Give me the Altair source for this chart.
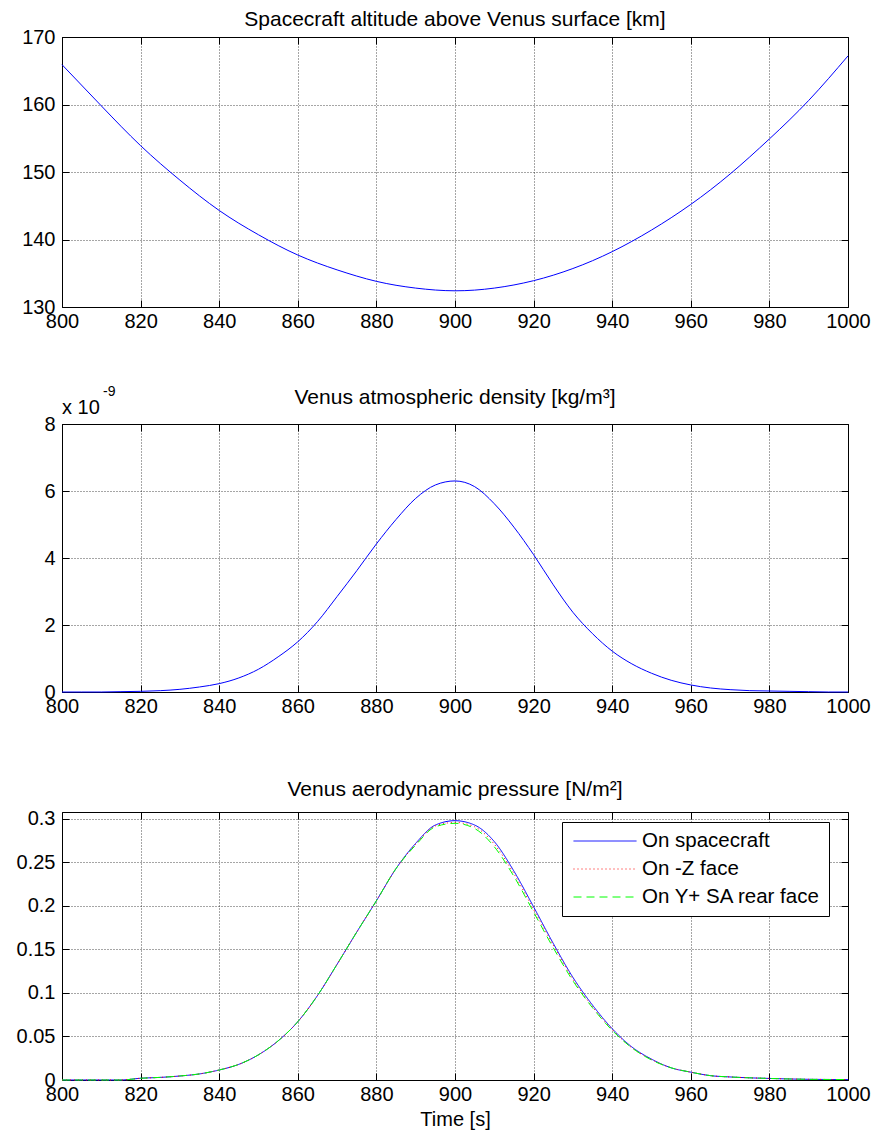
import altair as alt
import pandas as pd

# ---------------- data ----------------
time_alt = [800, 810, 820, 830, 840, 850, 860, 870, 880, 890, 900,
            910, 920, 930, 940, 950, 960, 970, 980, 990, 1000]
altitude_km = [165.9, 159.8, 153.9, 148.8, 144.3, 140.7, 137.7, 135.5, 133.8, 132.8, 132.4,
               132.8, 133.9, 135.7, 138.2, 141.4, 145.2, 149.7, 154.9, 160.6, 167.2]

time_fine = [800, 805, 810, 815, 820, 825, 830, 835, 840, 845, 850, 855, 860, 865, 870, 875,
             880, 885, 890, 895, 900, 905, 910, 915, 920, 925, 930, 935, 940, 945, 950, 955,
             960, 965, 970, 975, 980, 985, 990, 995, 1000]

density_e9 = [0.0, 0.0, 0.0, 0.01, 0.02, 0.04, 0.08, 0.15, 0.25, 0.42, 0.68, 1.05, 1.5, 2.1,
              2.85, 3.62, 4.42, 5.15, 5.78, 6.18, 6.3, 6.13, 5.62, 4.92, 4.1, 3.2, 2.38, 1.74,
              1.22, 0.84, 0.56, 0.35, 0.21, 0.12, 0.07, 0.04, 0.03, 0.02, 0.01, 0.0, 0.0]

p_spacecraft = [0.0, 0.0, 0.0, 0.0, 0.002, 0.003, 0.0046, 0.007, 0.0115, 0.018, 0.029, 0.045,
                0.067, 0.097, 0.133, 0.170, 0.206, 0.243, 0.272, 0.293, 0.298, 0.293, 0.274,
                0.240, 0.199, 0.157, 0.118, 0.086, 0.059, 0.038, 0.024, 0.014, 0.009, 0.005,
                0.0035, 0.0025, 0.0018, 0.0012, 0.0008, 0.0006, 0.0005]
p_minus_z = [0.0, 0.0, 0.0, 0.0, 0.002, 0.003, 0.0046, 0.007, 0.0115, 0.018, 0.029, 0.045,
             0.067, 0.097, 0.133, 0.170, 0.206, 0.243, 0.271, 0.292, 0.296, 0.291, 0.271,
             0.237, 0.196, 0.155, 0.116, 0.084, 0.058, 0.037, 0.0235, 0.014, 0.009, 0.005,
             0.0035, 0.0025, 0.0018, 0.0012, 0.0008, 0.0006, 0.0005]
p_y_rear = [0.0, 0.0, 0.0, 0.0, 0.002, 0.003, 0.0046, 0.007, 0.0115, 0.018, 0.029, 0.045,
            0.067, 0.097, 0.133, 0.170, 0.206, 0.243, 0.270, 0.291, 0.295, 0.289, 0.268,
            0.234, 0.193, 0.152, 0.114, 0.083, 0.057, 0.037, 0.023, 0.014, 0.009, 0.005,
            0.0035, 0.0025, 0.0018, 0.0012, 0.0008, 0.0006, 0.0005]

series_names = ["On spacecraft", "On -Z face", "On Y+ SA rear face"]
series_colors = ["#0000ff", "#ff0000", "#00ff00"]
series_dashes = [[1, 0], [1, 3], [8, 5]]

x_ticks = [800, 820, 840, 860, 880, 900, 920, 940, 960, 980, 1000]
alt_ticks = [130, 140, 150, 160, 170]
dens_ticks = [0, 2, 4, 6, 8]
pres_ticks = [0, 0.05, 0.1, 0.15, 0.2, 0.25, 0.3]

titles = ["Spacecraft altitude above Venus surface [km]",
          "Venus atmospheric density [kg/m³]",
          "Venus aerodynamic pressure [N/m²]"]
exp_base = ["x 10"]
exp_power = ["-9"]
x_title = "Time [s]"

# ---------------- tables ----------------
df_alt = pd.DataFrame({"t": time_alt, "v": altitude_km})
df_den = pd.DataFrame({"t": time_fine, "v": density_e9})
rows = []
for name, vals in zip(series_names, [p_spacecraft, p_minus_z, p_y_rear]):
    for t, v in zip(time_fine, vals):
        rows.append({"t": t, "v": v, "series": name})
df_pres = pd.DataFrame(rows)

FONT = "Liberation Sans"
W = 786
TICK = 7

x_scale = alt.Scale(domain=[800, 1000], nice=False, zero=False)


def x_main(title=None):
    return alt.X("t:Q", scale=x_scale,
                 axis=alt.Axis(values=x_ticks, title=title, format="d", offset=-TICK,
                               tickSize=TICK, labelPadding=4, labelFlush=False))


def y_main(scale, values, fmt):
    return alt.Y("v:Q", scale=scale,
                 axis=alt.Axis(values=values, title=None, format=fmt, offset=-TICK,
                               tickSize=TICK, labelPadding=7, labelFlush=False,
                               minExtent=56, maxExtent=56))


def frame_layer(df, yscale, yvalues):
    # invisible copy of the data, only to carry MATLAB-style inward ticks on top/right
    return alt.Chart(df).mark_line(opacity=0).encode(
        x=alt.X("t:Q", scale=x_scale,
                axis=alt.Axis(orient="top", values=x_ticks, labels=False, grid=False,
                              title=None, offset=-TICK, tickSize=TICK)),
        y=alt.Y("v:Q", scale=yscale,
                axis=alt.Axis(orient="right", values=yvalues, labels=False, grid=False,
                              title=None, offset=-TICK, tickSize=TICK)),
    )


def title_layer(text, dy):
    return alt.Chart(pd.DataFrame({"s": [text]})).mark_text(
        align="center", baseline="alphabetic", font=FONT, fontSize=21, color="black"
    ).encode(x=alt.value(W / 2), y=alt.value(dy), text="s:N")


# Panel 1
s1 = alt.Scale(domain=[130, 170], nice=False, zero=False)
l1 = alt.Chart(df_alt).mark_line(color="#0000ff", strokeWidth=1, interpolate="natural").encode(
    x=x_main(), y=y_main(s1, alt_ticks, "d"))
p1 = alt.layer(l1, frame_layer(df_alt, s1, alt_ticks), title_layer(titles[0], -11)).resolve_axis(
    x="independent", y="independent").properties(width=W, height=270)

# Panel 2
s2 = alt.Scale(domain=[0, 8], nice=False)
l2 = alt.Chart(df_den).mark_line(color="#0000ff", strokeWidth=1, interpolate="monotone").encode(
    x=x_main(), y=y_main(s2, dens_ticks, "d"))
exp1 = alt.Chart(pd.DataFrame({"s": exp_base})).mark_text(
    align="left", baseline="alphabetic", font=FONT, fontSize=20, color="black"
).encode(x=alt.value(0), y=alt.value(-10), text="s:N")
exp2 = alt.Chart(pd.DataFrame({"s": exp_power})).mark_text(
    align="left", baseline="alphabetic", font=FONT, fontSize=14, color="black"
).encode(x=alt.value(41), y=alt.value(-28), text="s:N")
p2 = alt.layer(l2, frame_layer(df_den, s2, dens_ticks), exp1, exp2,
               title_layer(titles[1], -20)).resolve_axis(
    x="independent", y="independent").properties(width=W, height=268)

# Panel 3
legend = alt.Legend(
    title=None, orient="none", legendX=500, legendY=10, direction="vertical",
    fillColor="white", strokeColor="black", padding=8,
    labelFont=FONT, labelFontSize=20.5, labelColor="black", labelLimit=400,
    labelExpr="datum.label + '\u00a0\u00a0\u00a0'",
    symbolType="M-3,0H3", symbolSize=441, symbolStrokeWidth=1,
    symbolOffset=24, labelOffset=26, rowPadding=6,
)
s3 = alt.Scale(domain=[0, 0.308], nice=False)
l3 = alt.Chart(df_pres).mark_line(strokeWidth=1, interpolate="monotone").encode(
    x=x_main(x_title),
    y=y_main(s3, pres_ticks, "~g"),
    color=alt.Color("series:N", scale=alt.Scale(domain=series_names, range=series_colors),
                    sort=series_names, legend=legend),
    strokeDash=alt.StrokeDash("series:N", scale=alt.Scale(domain=series_names, range=series_dashes),
                              sort=series_names, legend=legend),
)
p3 = alt.layer(l3, frame_layer(df_pres, s3, pres_ticks), title_layer(titles[2], -16)).resolve_axis(
    x="independent", y="independent").properties(width=W, height=268)

top = alt.vconcat(p1, p2, spacing=52)
chart = alt.vconcat(top, p3, spacing=61).resolve_legend(
    color="independent", strokeDash="independent"
).properties(
    padding={"left": 4, "top": 0, "right": 5, "bottom": 5}
).configure_view(
    stroke="black", strokeWidth=1
).configure_axis(
    labelFont=FONT, labelFontSize=20, labelColor="black",
    titleFont=FONT, titleFontSize=20, titleFontWeight="normal", titleColor="black",
    titlePadding=5,
    domain=False, ticks=True, tickColor="black", tickWidth=1,
    grid=True, gridColor="black", gridDash=[1, 2], gridOpacity=0.7, gridWidth=1,
)

chart.save("out.html", embed_options={"renderer": "svg", "actions": False})
